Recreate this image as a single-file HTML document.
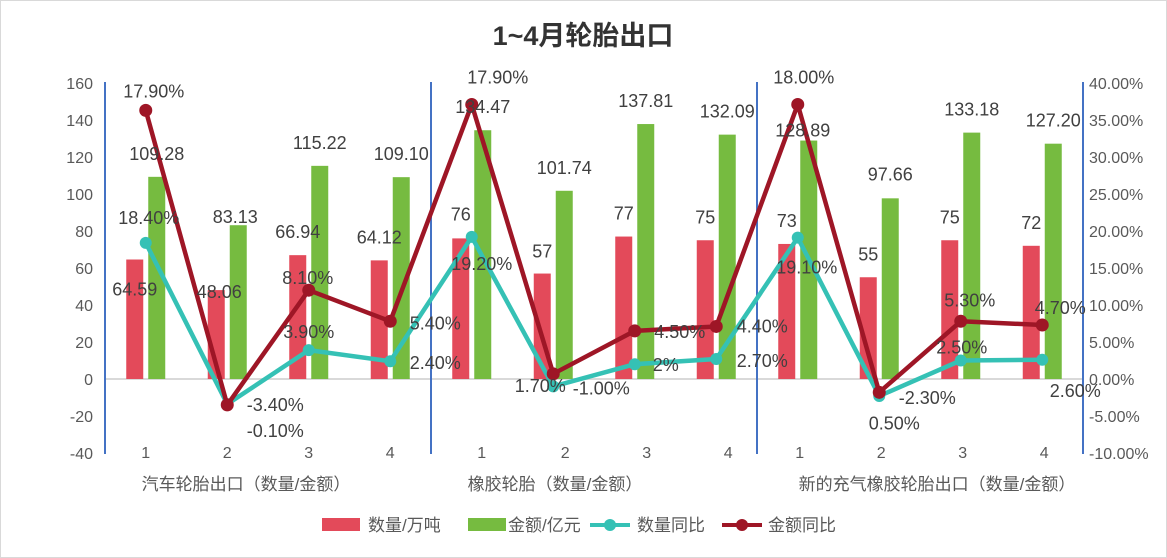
<!DOCTYPE html>
<html><head><meta charset="utf-8">
<style>
body{margin:0;background:#fff;}
#wrap{position:relative;width:1167px;height:558px;overflow:hidden;}
svg text{font-family:"Liberation Sans","Noto Sans CJK SC",sans-serif;}
</style></head>
<body>
<div id="wrap">
<svg id="chart" width="1167" height="558"></svg>
</div>
<script>
const categories=["1","2","3","4","1","2","3","4","1","2","3","4"];
const groupLabels=["汽车轮胎出口（数量/金额）","橡胶轮胎（数量/金额）","新的充气橡胶轮胎出口（数量/金额）"];
const qtyValues=[64.59,48.06,66.94,64.12,76,57,77,75,73,55,75,72];
const qtyLabels=["64.59","48.06","66.94","64.12","76","57","77","75","73","55","75","72"];
const amtValues=[109.28,83.13,115.22,109.10,134.47,101.74,137.81,132.09,128.89,97.66,133.18,127.20];
const qtyYoy=[18.4,-3.4,3.9,2.4,19.2,-1.0,2,2.7,19.1,-2.3,2.5,2.6];
const qtyYoyLabels=["18.40%","-3.40%","3.90%","2.40%","19.20%","-1.00%","2%","2.70%","19.10%","-2.30%","2.50%","2.60%"];
const amtYoy=[17.9,-0.1,8.1,5.4,17.9,1.7,4.5,4.4,18.0,0.5,5.3,4.7];
const leftTicks=[160,140,120,100,80,60,40,20,0,-20,-40];
const rightTicks=[40,35,30,25,20,15,10,5,0,-5,-10];

const NS="http://www.w3.org/2000/svg";
const svg=document.getElementById('chart');
function mk(tag,attrs,parent){const e=document.createElementNS(NS,tag);for(const k in attrs)e.setAttribute(k,attrs[k]);(parent||svg).appendChild(e);return e;}
const X0=105,CW=81.5;
const cx=i=>X0+CW*(i+0.5);
const yL=v=>379-v*1.85;
const yR=p=>379-p*7.4;

const gOff=[[0,-23],[-3,-8],[0,-23],[0,-23],[0,-23],[0,-23],[0,-23],[0,-23],[-6,-10],[0,-24],[0,-23],[0,-23]];
const rOff=[[0,30],[3,2],[0,-23],[0,-23],[0,-24],[0,-22],[0,-23],[0,-23],[0,-23],[0,-23],[0,-23],[0,-23]];
const qOff=[[3,-25],[48,1],[0,-18],[45,2],[10,27],[48,2],[31,1],[46,2],[9,30],[48,2],[1,-13],[33,31]];
const aOff=[[8,-19],[48,26],[-1,-12],[45,2],[26,-27],[-13,12],[45,1],[46,0],[6,-27],[15,31],[9,-21],[18,-17]];
const catOff=[0,0,0,0,10,12,12,12,2,2,2,2];

let e;
e=mk('rect',{x:0.5,y:0.5,width:1166,height:557,fill:'#fff',stroke:'#d9d9d9'});


e=mk('text',{x:583,y:45,'text-anchor':'middle','font-size':'27','font-weight':'bold',fill:'#333'});
e.textContent='1~4月轮胎出口';



leftTicks.forEach(v=>{const t=mk('text',{x:93,y:yL(v)+6,'text-anchor':'end','font-size':'16',fill:'#595959'});t.textContent=v;

});
rightTicks.forEach(v=>{const t=mk('text',{x:1089,y:yR(v)+6,'text-anchor':'start','font-size':'16',fill:'#595959'});t.textContent=v.toFixed(2)+'%';

});

e=mk('line',{x1:X0,x2:1083,y1:379,y2:379,stroke:'#d9d9d9','stroke-width':2});


[0,4,8,12].forEach(k=>{const x=X0+CW*k;const l=mk('line',{x1:x,x2:x,y1:82,y2:454,stroke:'#4472C4','stroke-width':2});

});

categories.forEach((c,i)=>{const t=mk('text',{x:cx(i)+catOff[i],y:458,'text-anchor':'middle','font-size':'16',fill:'#595959'});t.textContent=c;

});
groupLabels.forEach((g,k)=>{const t=mk('text',{x:[246,555,937][k],y:490,'text-anchor':'middle','font-size':'17',fill:'#595959'});t.textContent=g;

});

qtyValues.forEach((v,i)=>{const r=mk('rect',{x:cx(i)-11-8.5,y:yL(v),width:17,height:379-yL(v),fill:'#E34A5A'});

});
amtValues.forEach((v,i)=>{const r=mk('rect',{x:cx(i)+11-8.5,y:yL(v),width:17,height:379-yL(v),fill:'#76BB40'});

});

const qPts=qtyYoy.map((p,i)=>[cx(i),yR(p)]);
const aPts=amtYoy.map((p,i)=>[cx(i),yR(p+qtyYoy[i])]);
e=mk('polyline',{points:qPts.map(p=>p.join(',')).join(' '),fill:'none',stroke:'#35C1B5','stroke-width':4.5,'stroke-linejoin':'round'});


qPts.forEach(p=>{const c=mk('circle',{cx:p[0],cy:p[1],r:6,fill:'#35C1B5'});

});
e=mk('polyline',{points:aPts.map(p=>p.join(',')).join(' '),fill:'none',stroke:'#9E1626','stroke-width':4.5,'stroke-linejoin':'round'});


aPts.forEach(p=>{const c=mk('circle',{cx:p[0],cy:p[1],r:6.5,fill:'#9E1626'});

});

function lab(x,y,txt,name){const t=mk('text',{x:x,y:y+6,'text-anchor':'middle','font-size':'18',fill:'#404040'});t.textContent=txt;

}
amtValues.forEach((v,i)=>lab(cx(i)+11+gOff[i][0],yL(v)+gOff[i][1],v.toFixed(2),'amount-label'));
qtyValues.forEach((v,i)=>lab(cx(i)-11+rOff[i][0],yL(v)+rOff[i][1],qtyLabels[i],'qty-label'));
qPts.forEach((p,i)=>lab(p[0]+qOff[i][0],p[1]+qOff[i][1],qtyYoyLabels[i],'qty-yoy-label'));
aPts.forEach((p,i)=>lab(p[0]+aOff[i][0],p[1]+aOff[i][1],amtYoy[i].toFixed(2)+'%','amount-yoy-label'));

const lg=[['rect','#E34A5A','数量/万吨',322,368],['rect','#76BB40','金额/亿元',468,508],['line','#35C1B5','数量同比',590,637],['line','#9E1626','金额同比',722,768]];
lg.forEach(d=>{
 let s;
 if(d[0]==='rect'){s=mk('rect',{x:d[3],y:518,width:38,height:13,fill:d[1]});}
 else{s=mk('g',{});mk('line',{x1:d[3],x2:d[3]+40,y1:525,y2:525,stroke:d[1],'stroke-width':4},s);mk('circle',{cx:d[3]+20,cy:525,r:6,fill:d[1]},s);}
 
 
 const t=mk('text',{x:d[4],y:531,'font-size':'17',fill:'#595959'});t.textContent=d[2];
 
 
});
</script>
</body></html>
